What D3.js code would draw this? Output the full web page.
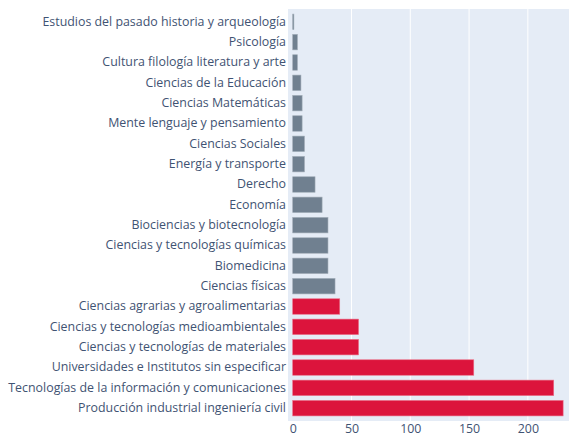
<!DOCTYPE html>
<html>
<head>
<meta charset="utf-8">
<script src="https://cdn.jsdelivr.net/npm/d3@7"></script>
<style>
  body { margin: 0; background: #fff; }
  .axis text { font-family: "Open Sans", sans-serif; font-size: 12.4px; fill: #3f5373; }
</style>
</head>
<body>
<div id="chart"></div>
<script>
// categories top to bottom, as in the picture
var categories = [
  "Estudios del pasado historia y arqueología",
  "Psicología",
  "Cultura filología literatura y arte",
  "Ciencias de la Educación",
  "Ciencias Matemáticas",
  "Mente lenguaje y pensamiento",
  "Ciencias Sociales",
  "Energía y transporte",
  "Derecho",
  "Economía",
  "Biociencias y biotecnología",
  "Ciencias y tecnologías químicas",
  "Biomedicina",
  "Ciencias físicas",
  "Ciencias agrarias y agroalimentarias",
  "Ciencias y tecnologías medioambientales",
  "Ciencias y tecnologías de materiales",
  "Universidades e Institutos sin especificar",
  "Tecnologías de la información y comunicaciones",
  "Producción industrial ingeniería civil"
];
var values = [1, 4, 4, 7, 8, 8, 10, 10, 19, 25, 30, 30, 30, 36, 40, 56, 56, 154, 222, 230];
// bottom six bars are red
var highlighted = [false, false, false, false, false, false, false, false, false, false,
                   false, false, false, false, true, true, true, true, true, true];
var xTicks = [0, 50, 100, 150, 200];

var W = 569, H = 438;
var margin = {top: 9, right: 0, bottom: 17, left: 288};
var width = W - margin.left - margin.right;
var height = H - margin.top - margin.bottom;

var svg = d3.select("#chart").append("svg").attr("width", W).attr("height", H);
var g = svg.append("g").attr("transform", "translate(" + margin.left + "," + margin.top + ")");

var x = d3.scaleLinear().domain([-4, 235]).range([0, width]);
var y = d3.scaleBand().domain(categories).range([0, height]).paddingInner(0.24).paddingOuter(0.25);

g.append("rect").attr("width", width).attr("height", height).attr("fill", "#e5ecf6");

g.selectAll(".grid").data(xTicks.filter(function(d){ return d > 0; })).enter().append("line")
  .attr("x1", function(d){ return x(d); }).attr("x2", function(d){ return x(d); })
  .attr("y1", 0).attr("y2", height)
  .attr("stroke", "#fff").attr("stroke-width", 1);

g.selectAll(".bar").data(categories).enter().append("rect")
  .attr("x", x(0))
  .attr("y", function(d){ return y(d); })
  .attr("width", function(d, i){ return x(values[i]) - x(0); })
  .attr("height", y.bandwidth())
  .attr("fill", function(d, i){ return highlighted[i] ? "#dc143c" : "#708090"; })
  .attr("stroke", function(d, i){ return highlighted[i] ? "#ea6d85" : "#a0abb6"; })
  .attr("stroke-width", 0.6);

var yAxis = g.append("g").attr("class", "axis")
  .call(d3.axisLeft(y).tickSize(0).tickPadding(2));
yAxis.select(".domain").remove();

var xAxis = g.append("g").attr("class", "axis")
  .attr("transform", "translate(0," + height + ")")
  .call(d3.axisBottom(x).tickValues(xTicks).tickSize(0).tickPadding(3));
xAxis.select(".domain").remove();
</script>
</body>
</html>
